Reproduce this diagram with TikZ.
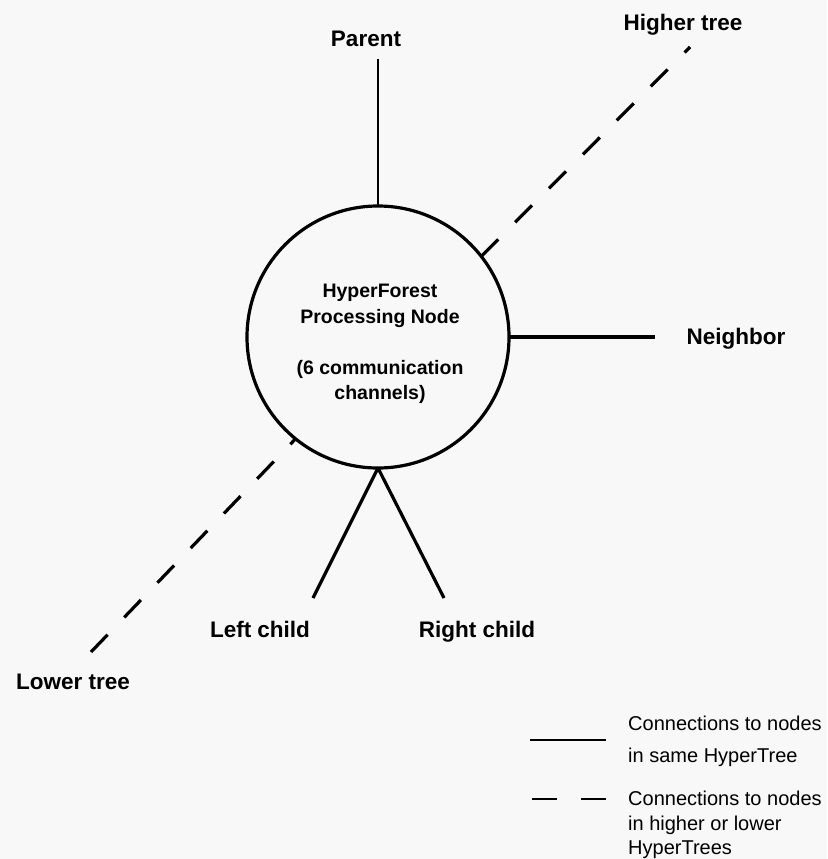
\documentclass[tikz,border=0pt]{standalone}
\usepackage{fontspec}
\setmainfont{Liberation Sans}
\definecolor{paper}{RGB}{248,248,248}
\begin{document}
\begin{tikzpicture}[x=1pt,y=-1pt,
  lbl/.style={font=\fontsize{22.5}{26}\selectfont\bfseries, inner sep=0pt, anchor=base},
  link/.style={line width=3.2pt},
  crosslink/.style={line width=3.2pt, dash pattern=on 24pt off 24pt},
  legtext/.style={font=\fontsize{20}{25}\selectfont, inner sep=0pt, anchor=base west}]
  % page
  \fill[paper] (0,0) rectangle (827,859);
  \useasboundingbox (0,0) rectangle (827,859);

  % processing node
  \node[circle, draw, line width=3.2pt, minimum size=262pt, inner sep=0pt, outer sep=0pt] (pn) at (378,337) {};
  \node[font=\fontsize{19.5}{25.5}\selectfont\bfseries, align=center, inner sep=0pt] (pntext) at (380,344)
    {HyperForest\\Processing Node\\[25.5pt](6 communication\\channels)};

  % channel labels
  \node[lbl] (parent)   at (366,47)  {Parent};
  \node[lbl] (higher)   at (683,31)  {Higher tree};
  \node[lbl] (neighbor) at (736,344) {Neighbor};
  \node[lbl] (left)     at (260,637) {Left child};
  \node[lbl] (right)    at (477,637) {Right child};
  \node[lbl] (lower)    at (73,689)  {Lower tree};

  % free ends of the channels
  \coordinate (pend)  at (378,59);
  \coordinate (nend)  at (655,337);
  \coordinate (lend)  at (313,598);
  \coordinate (rend)  at (444,598);
  \coordinate (hend)  at (690,47);
  \coordinate (loend) at (91,652);

  % channels within the same tree
  \draw[link, line width=2.6pt] (pn.north) -- (pend);
  \draw[link] (pn.east) -- (nend);
  \draw[link] (pn.south) -- (lend);
  \draw[link] (pn.south) -- (rend);

  % channels to higher and lower trees
  \draw[crosslink] (pn.38.6) -- (hend);
  \draw[crosslink] (loend) -- (pn.231.8);

  % legend
  \coordinate (s1) at (530,740);
  \coordinate (s2) at (606,740);
  \draw[line width=2.8pt] (s1) -- (s2);
  \node[legtext] (leg1a) at (628,730) {Connections to nodes};
  \node[legtext] (leg1b) at (628,762) {in same HyperTree};

  \coordinate (d1) at (532,799);
  \coordinate (d2) at (606,799);
  \draw[line width=2.8pt, dash pattern=on 25pt off 24pt] (d1) -- (d2);
  \node[legtext] (leg2a) at (628,805) {Connections to nodes};
  \node[legtext] (leg2b) at (628,830) {in higher or lower};
  \node[legtext] (leg2c) at (628,854) {HyperTrees};
\end{tikzpicture}
\end{document}
